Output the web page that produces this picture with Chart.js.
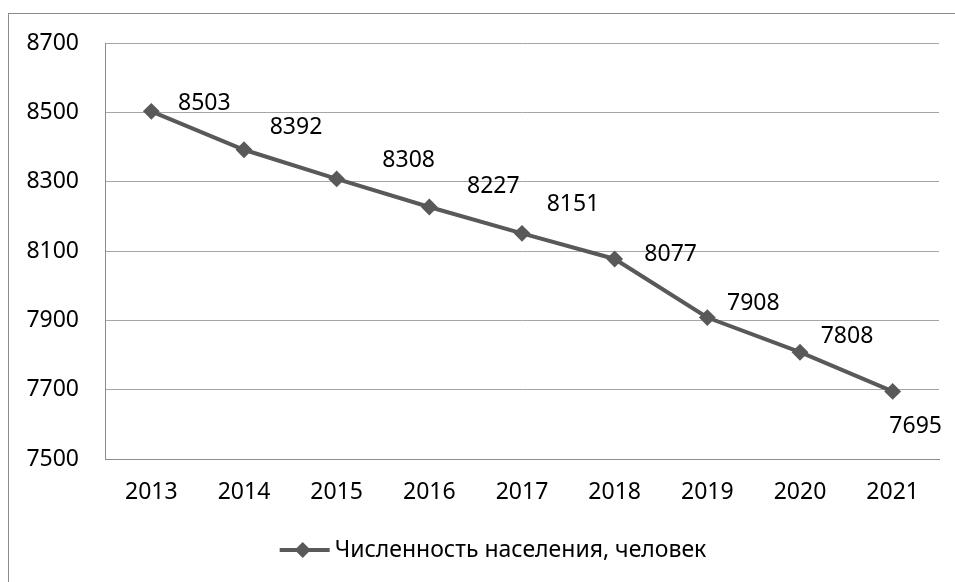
<!DOCTYPE html>
<html>
<head>
<meta charset="utf-8">
<script src="https://cdn.jsdelivr.net/npm/chart.js@4"></script>
<style>
  html, body { margin: 0; padding: 0; background: #fff; }
  #wrap { position: relative; width: 955px; height: 582px; overflow: hidden; }
  #frame { position: absolute; left: 8px; top: 13px; width: 1000px; height: 600px;
           border-left: 1px solid #8c8c8c; border-top: 1px solid #8c8c8c; }
  canvas { position: absolute; left: 0; top: 0; }
</style>
</head>
<body>
<div id="wrap">
  <div id="frame"></div>
  <canvas id="myChart" width="955" height="582"></canvas>
</div>
<script>
// DATA
const years = ["2013", "2014", "2015", "2016", "2017", "2018", "2019", "2020", "2021"];
const population = [8503, 8392, 8308, 8227, 8151, 8077, 7908, 7808, 7695];
const seriesName = "Численность населения, человек";
const yTicks = [7500, 7700, 7900, 8100, 8300, 8500, 8700];

// where each value label sits relative to its point (px)
const labelShift = [[53, -8], [52, -22], [72, -18], [64, -21], [51, -29], [56, -5], [46, -14], [47, -16], [23, 35]];

const lineColor = "#595959";
const font = "'Noto Sans', 'Open Sans', sans-serif";

// VALUE LABELS + BOTTOM LEGEND
const extras = {
  id: "extras",
  afterDatasetsDraw(chart) {
    const ctx = chart.ctx;
    const meta = chart.getDatasetMeta(0);
    ctx.save();
    ctx.font = "23px " + font;
    ctx.fillStyle = "#000";
    ctx.textAlign = "center";
    ctx.textBaseline = "middle";
    meta.data.forEach((pt, i) => {
      ctx.fillText(String(population[i]), pt.x + labelShift[i][0], pt.y + labelShift[i][1]);
    });

    // legend: line with a diamond, then the text
    const textW = ctx.measureText(seriesName).width;
    const total = 50 + 5 + textW;
    const left = 493 - total / 2;
    const y = 550;
    ctx.strokeStyle = lineColor;
    ctx.lineWidth = 4;
    ctx.beginPath();
    ctx.moveTo(left, y);
    ctx.lineTo(left + 50, y);
    ctx.stroke();
    ctx.fillStyle = lineColor;
    ctx.beginPath();
    const cx = left + 23;
    ctx.moveTo(cx, y - 8);
    ctx.lineTo(cx + 8, y);
    ctx.lineTo(cx, y + 8);
    ctx.lineTo(cx - 8, y);
    ctx.closePath();
    ctx.fill();
    ctx.fillStyle = "#000";
    ctx.textAlign = "left";
    ctx.fillText(seriesName, left + 55, y);
    ctx.restore();
  }
};

const lineCanvas = document.getElementById("myChart");
const lineChart = new Chart(lineCanvas, {
  type: "line",
  data: {
    labels: years,
    datasets: [{
      label: seriesName,
      data: population,
      borderColor: lineColor,
      backgroundColor: lineColor,
      borderWidth: 4,
      tension: 0,
      pointStyle: "rectRot",
      pointRadius: 7,
      pointBorderWidth: 2,
      pointBackgroundColor: lineColor,
      pointBorderColor: lineColor
    }]
  },
  options: {
    responsive: false,
    animation: false,
    layout: {
      padding: { left: 0, right: 16, top: 43, bottom: 63 }
    },
    scales: {
      y: {
        min: 7500,
        max: 8700,
        afterBuildTicks: (axis) => { axis.ticks = yTicks.map(v => ({ value: v })); },
        afterFit: (axis) => { axis.width = 105; },
        ticks: {
          color: "#000",
          padding: 26,
          font: { family: font, size: 23 },
          callback: (v) => String(v)
        },
        grid: { color: "#a6a6a6", lineWidth: 1, drawTicks: false },
        border: { display: true, color: "#8c8c8c", width: 1 }
      },
      x: {
        offset: true,
        afterFit: (axis) => { axis.height = 60; },
        ticks: {
          color: "#000",
          padding: 20,
          maxRotation: 0,
          font: { family: font, size: 23 }
        },
        grid: { display: false, drawTicks: false },
        border: { display: true, color: "#8c8c8c", width: 1 }
      }
    },
    plugins: {
      legend: { display: false },
      tooltip: { enabled: false }
    }
  },
  plugins: [extras]
});
</script>
</body>
</html>
